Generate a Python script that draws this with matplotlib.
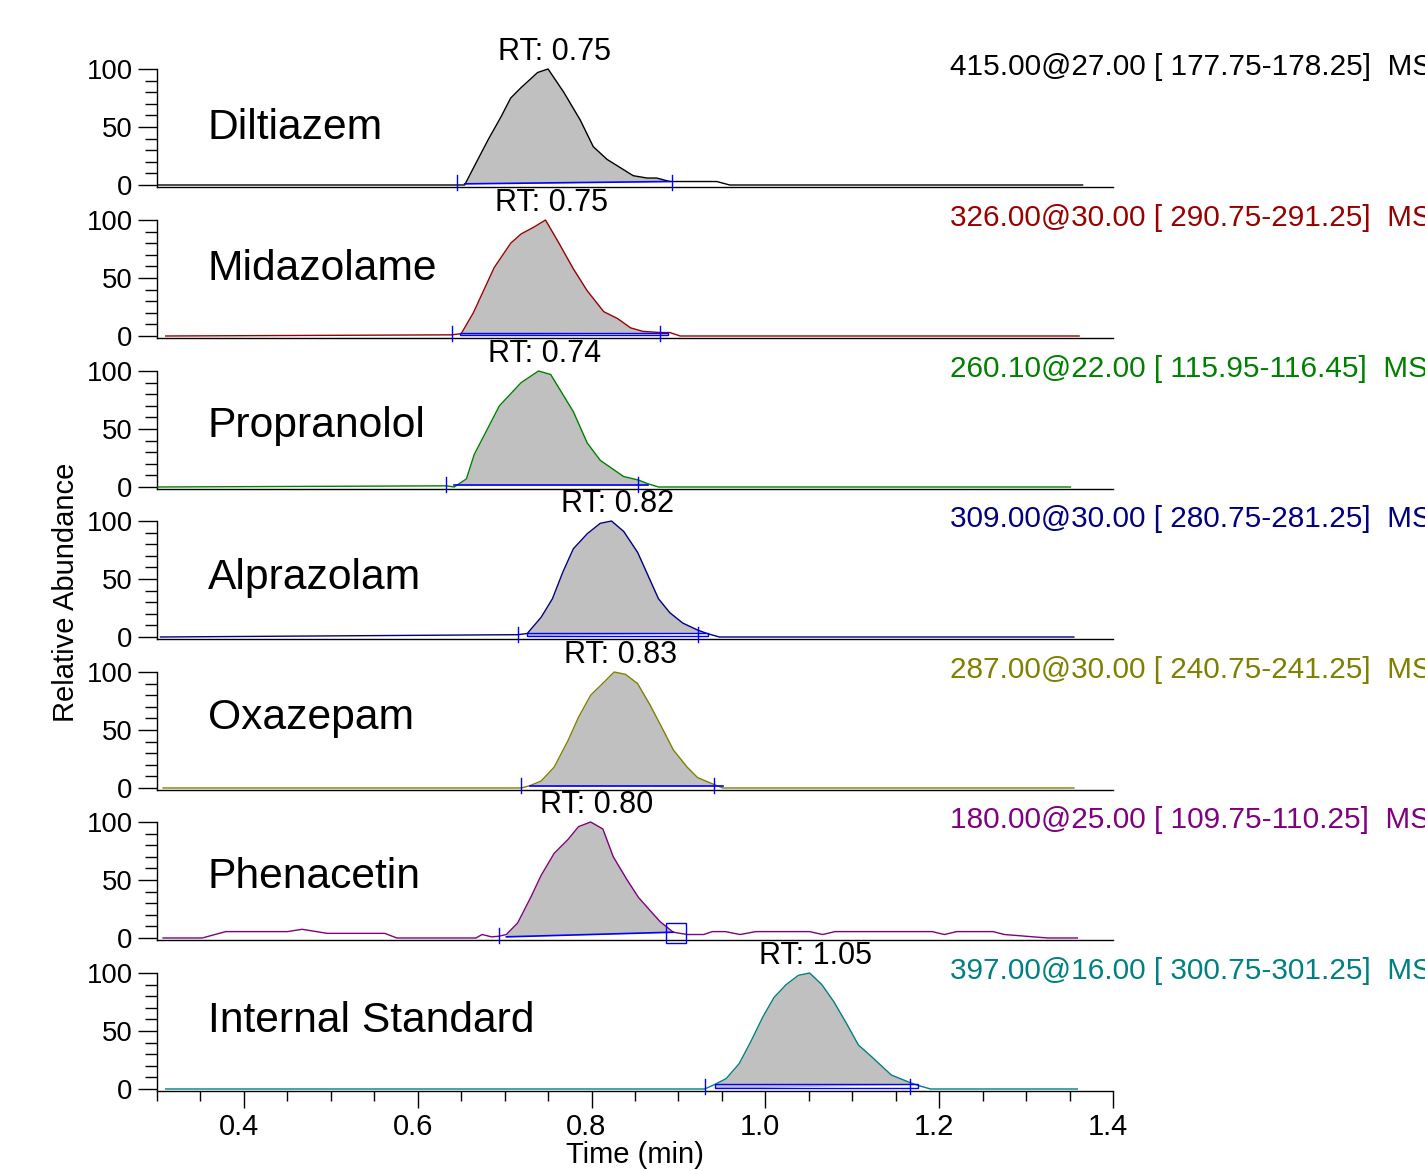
import numpy as np
import matplotlib
matplotlib.use('Agg')
import matplotlib.pyplot as plt
import matplotlib.transforms as mtransforms
from matplotlib.patches import Rectangle
from matplotlib.ticker import MultipleLocator, FixedLocator

plt.rcParams['font.family'] = ['Liberation Sans', 'DejaVu Sans']

# compound names, colours and filter headers
names = ["Diltiazem", "Midazolame", "Propranolol", "Alprazolam",
         "Oxazepam", "Phenacetin", "Internal Standard"]
colors = ["#000000", "#990000", "#008000", "#000080",
          "#808000", "#800080", "#008080"]
headers = ["415.00@27.00 [ 177.75-178.25]  MS",
           "326.00@30.00 [ 290.75-291.25]  MS",
           "260.10@22.00 [ 115.95-116.45]  MS",
           "309.00@30.00 [ 280.75-281.25]  MS",
           "287.00@30.00 [ 240.75-241.25]  MS",
           "180.00@25.00 [ 109.75-110.25]  MS",
           "397.00@16.00 [ 300.75-301.25]  MS"]
rt_labels = ["RT: 0.75", "RT: 0.75", "RT: 0.74", "RT: 0.82",
             "RT: 0.83", "RT: 0.80", "RT: 1.05"]

# traces (time in min, relative abundance)
t_dil = [0.301, 0.654, 0.665, 0.681, 0.696, 0.707, 0.719, 0.738, 0.750, 0.768,
         0.787, 0.802, 0.818, 0.848, 0.864, 0.875, 0.890, 0.944, 0.959, 1.365]
i_dil = [0, 0, 16, 39, 59, 75, 84, 97, 100, 80, 56, 33, 22, 8, 6, 6, 3, 3, 0, 0]

t_mid = [0.310, 0.639, 0.650, 0.664, 0.688, 0.707, 0.719, 0.734, 0.747, 0.761,
         0.779, 0.795, 0.814, 0.830, 0.845, 0.859, 0.879, 0.890, 0.902, 1.361]
i_mid = [0, 1, 2, 20, 59, 80, 88, 94, 100, 82, 58, 39, 21, 15, 7, 4, 3, 3, 0, 0]

t_pro = [0.301, 0.633, 0.642, 0.656, 0.665, 0.694, 0.719, 0.739, 0.753, 0.779,
         0.795, 0.810, 0.837, 0.854, 0.864, 0.877, 1.351]
i_pro = [0, 1, 0, 7, 28, 70, 90, 100, 97, 65, 38, 23, 9, 6, 3, 0, 0]

t_alp = [0.304, 0.715, 0.726, 0.742, 0.755, 0.767, 0.779, 0.795, 0.810, 0.823,
         0.837, 0.853, 0.877, 0.890, 0.905, 0.922, 0.933, 0.947, 1.355]
i_alp = [0, 2, 3, 17, 33, 56, 76, 89, 98, 100, 91, 73, 33, 21, 12, 6, 3, 0, 0]

t_oxa = [0.307, 0.719, 0.729, 0.742, 0.757, 0.773, 0.785, 0.799, 0.814, 0.826,
         0.839, 0.853, 0.867, 0.881, 0.894, 0.910, 0.922, 0.941, 0.951, 1.355]
i_oxa = [0, 0, 2, 6, 18, 41, 61, 80, 91, 100, 98, 90, 72, 52, 33, 18, 9, 3, 0, 0]

t_phe = [0.307, 0.352, 0.379, 0.450, 0.467, 0.496, 0.562, 0.576, 0.667, 0.674,
         0.685, 0.693, 0.702, 0.715, 0.730, 0.742, 0.757, 0.773, 0.785, 0.799,
         0.813, 0.825, 0.841, 0.854, 0.867, 0.879, 0.894, 0.910, 0.929, 0.939,
         0.954, 0.971, 0.989, 1.051, 1.066, 1.080, 1.192, 1.206, 1.220, 1.262,
         1.275, 1.325, 1.359]
i_phe = [0, 0, 5.5, 5.5, 7.5, 4, 4, 0, 0, 3,
         1, 1.5, 3, 13, 35, 54, 73, 85, 96, 100,
         94, 70, 50, 35, 24, 14, 5, 3, 3, 5.5,
         5.5, 3, 5.5, 5.5, 3, 5.5, 5.5, 3, 5.5, 5.5,
         3, 0, 0]

t_is = [0.310, 0.930, 0.942, 0.955, 0.970, 0.984, 0.997, 1.010, 1.024, 1.038,
        1.051, 1.065, 1.079, 1.093, 1.107, 1.122, 1.145, 1.165, 1.176, 1.190, 1.359]
i_is = [0, 0, 4, 9, 22, 42, 62, 79, 90, 98, 100, 90, 75, 57, 38, 28, 12, 6, 3, 0, 0]

times = [t_dil, t_mid, t_pro, t_alp, t_oxa, t_phe, t_is]
values = [i_dil, i_mid, i_pro, i_alp, i_oxa, i_phe, i_is]

# peak integration: start/end markers and baseline
tick_start = [0.645, 0.639, 0.633, 0.715, 0.719, 0.693, 0.930]
tick_end = [0.893, 0.879, 0.854, 0.922, 0.941, None, 1.166]
bl_t0 = [0.654, 0.649, 0.642, 0.726, 0.729, 0.702, 0.942]
bl_t1 = [0.890, 0.888, 0.865, 0.934, 0.951, 0.894, 1.176]
bl_y0 = [1.0, 0.5, 1.5, 1.0, 1.5, 1.0, 0.5]
bl_y1 = [3.0, 3.0, 1.5, 3.5, 1.5, 5.0, 4.0]
phe_box = (0.886, 0.909)

# layout
bl_style = ["line", "rect", "line", "rect", "line", "line", "rect"]
name_y = [49, 58, 53, 51, 60, 53, 59]
W, H = 1425, 1171
x_left, x_right = 157, 1113
bases = [185, 336, 487, 637, 788, 938, 1089]
px_unit = 1.16
ylo, yhi = -1.5, 103
blue = "#0000ff"
gray = "#c0c0c0"

fig = plt.figure(figsize=(W / 100, H / 100), dpi=100)
shift_left = mtransforms.ScaledTranslation(-5 / 100, 0, fig.dpi_scale_trans)
shift_right = mtransforms.ScaledTranslation(6 / 100, 0, fig.dpi_scale_trans)

for k in range(7):
    base = bases[k]
    bot = base - ylo * px_unit
    top = base - yhi * px_unit
    ax = fig.add_axes([x_left / W, 1 - bot / H, (x_right - x_left) / W, (bot - top) / H])
    ax.set_xlim(0.30, 1.40)
    ax.set_ylim(ylo, yhi)
    ax.patch.set_alpha(0)
    for s in ["top", "right"]:
        ax.spines[s].set_visible(False)
    ax.spines["left"].set_bounds(ylo, 100)
    ax.spines["left"].set_linewidth(1.0)
    ax.spines["bottom"].set_linewidth(1.0)

    ax.yaxis.set_major_locator(FixedLocator([0, 50, 100]))
    ax.yaxis.set_minor_locator(MultipleLocator(10))
    ax.tick_params(axis="y", which="major", length=13.5, width=1.0, labelsize=19.8, pad=4)
    ax.tick_params(axis="y", which="minor", length=9, width=1.0)
    if k < 6:
        ax.tick_params(axis="x", which="both", bottom=False, labelbottom=False)
    else:
        ax.xaxis.set_major_locator(FixedLocator([0.4, 0.6, 0.8, 1.0, 1.2, 1.4]))
        ax.xaxis.set_major_formatter(plt.FuncFormatter(lambda v, p: "%.1f" % v))
        ax.xaxis.set_minor_locator(FixedLocator(np.arange(0.30, 1.401, 0.05)))
        ax.tick_params(axis="x", which="major", length=12, width=1.0, labelsize=21, pad=4)
        ax.tick_params(axis="x", which="minor", length=7, width=1.0)
        for lab in ax.get_xticklabels():
            lab.set_transform(lab.get_transform() + shift_left)

    t = np.array(times[k])
    v = np.array(values[k], dtype=float)
    col = colors[k]

    # filled peak area between trace and integration baseline
    t0, t1 = bl_t0[k], bl_t1[k]
    inside = (t > t0) & (t < t1)
    xs = np.concatenate([[t0], t[inside], [t1]])
    ys = np.interp(xs, t, v)
    bl = bl_y0[k] + (bl_y1[k] - bl_y0[k]) * (xs - t0) / (t1 - t0)
    ax.fill_between(xs, bl, ys, where=ys >= bl, interpolate=True,
                    color=gray, lw=0, zorder=1)

    ax.plot(t, v, color=col, lw=1.0, zorder=3, clip_on=False)

    # integration markers
    if bl_style[k] == "rect":
        ax.add_patch(Rectangle((t0, bl_y0[k]), t1 - t0, bl_y1[k] - bl_y0[k],
                               fill=False, edgecolor=blue, lw=1.0, zorder=4, clip_on=False))
    else:
        ax.plot([t0, t1], [bl_y0[k], bl_y1[k]], color=blue, lw=1.2, zorder=4, clip_on=False)
    ax.plot([tick_start[k]] * 2, [-4.5, 9], color=blue, lw=1.0, zorder=4, clip_on=False)
    if tick_end[k] is not None:
        ax.plot([tick_end[k]] * 2, [-4.5, 9], color=blue, lw=1.0, zorder=4, clip_on=False)
    else:
        ax.add_patch(Rectangle((phe_box[0], -4.5), phe_box[1] - phe_box[0], 17.5,
                               fill=False, edgecolor=blue, lw=1.0, zorder=4, clip_on=False))

    trans = mtransforms.blended_transform_factory(ax.transAxes, ax.transData)
    ax.text(0.0533, name_y[k], names[k], transform=trans, fontsize=30.7,
            va="center", ha="left")
    ax.text(t[np.argmax(v)], 115, rt_labels[k], fontsize=22,
            va="center", ha="center", clip_on=False,
            transform=ax.transData + shift_right)
    ax.text(0.8295, 102, headers[k], transform=trans, fontsize=21.4, color=col,
            va="center", ha="left", clip_on=False)

fig.text(66 / W, 1 - 592 / H, "Relative Abundance", rotation=90,
         fontsize=21, ha="center", va="center")
fig.text(635 / W, 1 - 1155 / H, "Time (min)", fontsize=21, ha="center", va="center")

fig.savefig("out.png", dpi=100)
